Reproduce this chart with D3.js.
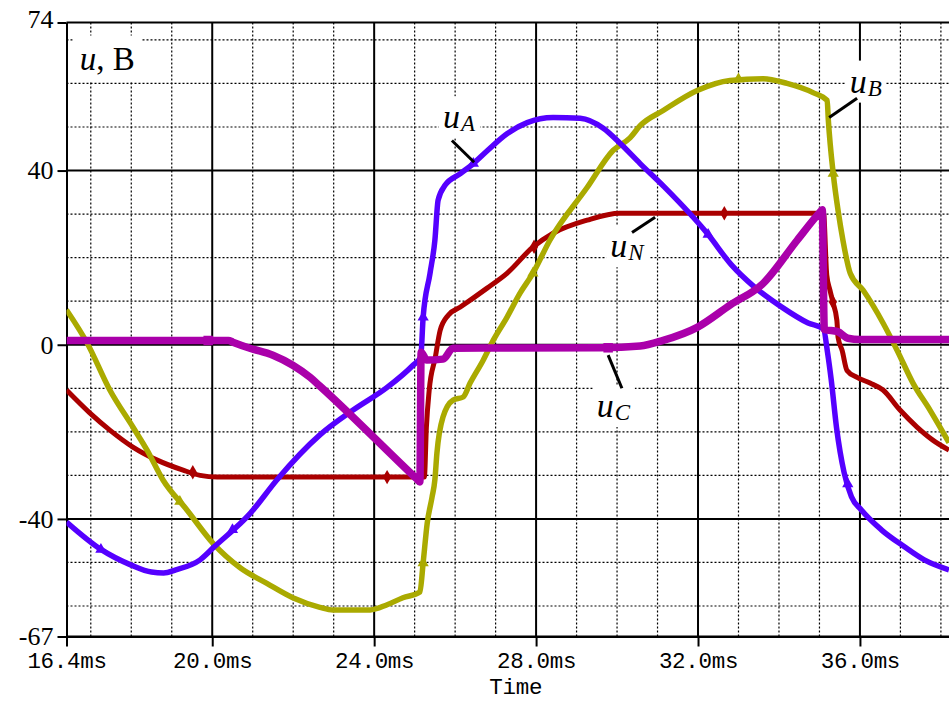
<!DOCTYPE html>
<html>
<head>
<meta charset="utf-8">
<script src="https://cdn.jsdelivr.net/npm/d3@7"></script>
<style>
  html, body { margin: 0; padding: 0; background: #fff; }
  svg { display: block; }
</style>
</head>
<body>
<svg id="chart" width="949" height="701"></svg>
<script>
// ---- axis ticks -----------------------------------------------------------
const timeTicks = [16.4, 20, 24, 28, 32, 36];
const timeTickLabels = ["16.4ms", "20.0ms", "24.0ms", "28.0ms", "32.0ms", "36.0ms"];
const voltTicks = [74, 40, 0, -40, -67];
const voltTickLabels = ["74", "40", "0", "-40", "-67"];
const minorTimes = [17, 18, 19, 21, 22, 23, 25, 26, 27, 29, 30, 31, 33, 34, 35, 37, 38];
const minorVolts = [70, 60, 50, 30, 20, 10, -10, -20, -30, -50, -60];

// ---- waveforms: [time in ms, voltage] ---------------------------------------
const uA = [
  [16.4, -40.7], [17.25, -47], [18.0, -50.6], [18.5, -52.2], [18.8, -52.4], [19.1, -51.7],
  [19.7, -49.4], [20.05, -46.4], [20.95, -38.6], [21.6, -31], [22.66, -20.7], [23.48, -15.0],
  [24.32, -9.8], [24.96, -4.7], [25.15, -2.8], [25.21, 6.3], [25.38, 16.4], [25.5, 24.0],
  [25.58, 33.2], [25.75, 36.6], [26.13, 39.3], [26.45, 41.6], [26.8, 44.6], [27.29, 48.5],
  [27.78, 51.0], [28.42, 52.2], [29.09, 52.0], [29.66, 49.7], [30.08, 46.2], [30.57, 41.6],
  [31.16, 36.3], [32.25, 25.3], [32.82, 18.4], [33.39, 13.3], [34.06, 8.7], [34.72, 5.0],
  [35.1, 3.6], [35.2, -1.8], [35.29, -8], [35.42, -18.9], [35.61, -29.4], [35.79, -34.9],
  [36.03, -37.9], [36.53, -42.5], [37.1, -46.4], [37.59, -49.4], [38.2, -51.7]
];
const uB = [
  [16.4, 8.0], [16.91, 0.4], [17.47, -10.4], [18.04, -18.9], [18.39, -24.2], [18.78, -31],
  [19.38, -38], [20.02, -45.6], [20.69, -51.2], [21.35, -54.8], [21.99, -58.1], [22.66, -60.3],
  [22.98, -60.9], [23.9, -60.9], [24.32, -59.7], [24.71, -58.1], [25.13, -56.8], [25.21, -50.1],
  [25.31, -41], [25.43, -35], [25.5, -31], [25.55, -24.9], [25.7, -16.6], [25.95, -12.7],
  [26.2, -12], [26.37, -8.8], [26.69, -3.6], [26.94, 1.0], [27.28, 6.3], [27.6, 11.8],
  [27.92, 16.4], [28.34, 24], [29.26, 36.1], [29.9, 44.6], [30.32, 47.5], [30.57, 50.3],
  [31.14, 53.8], [31.98, 58.4], [32.79, 60.7], [33.61, 61.1], [34.2, 60.0], [34.84, 57.9],
  [35.19, 56.1], [35.22, 51.5], [35.34, 39.3], [35.47, 30.2], [35.58, 24.0], [35.76, 16.4],
  [36.08, 12.5], [36.57, 5.0], [36.92, -1.3], [37.31, -8.8], [37.73, -15.0], [38.2, -22.5]
];
const uN = [
  [16.4, -10.4], [16.98, -15.7], [17.47, -19.6], [18.04, -23.5], [18.64, -26.5], [19.28, -28.8],
  [19.7, -30], [20.12, -30.4], [25.24, -30.4], [25.29, -19], [25.36, -10.4], [25.51, -2.9],
  [25.63, 3.3], [25.83, 6.8], [26.12, 8.6], [26.79, 13.0], [27.28, 16.4], [27.92, 22.4],
  [28.42, 25.6], [29.26, 28.6], [30.07, 30.2], [35.1, 30.2], [35.18, 16], [35.26, 12.5],
  [35.33, 9.8], [35.43, 5.6], [35.46, 1.7], [35.56, -1.3], [35.68, -5.9], [35.93, -7.5],
  [36.25, -8.8], [36.57, -10.4], [36.99, -15], [37.41, -18.9], [37.8, -21.9], [38.2, -24.2]
];
const uC = [
  [16.4, 1.0], [20.4, 1.0], [20.51, 0.6], [20.93, -0.8], [21.5, -2.4], [21.99, -4.7],
  [22.42, -7.5], [22.66, -9.5], [25.05, -30.8], [25.13, -31.5], [25.16, -1.7], [25.3, -3.5],
  [25.7, -3.3], [25.95, -0.8], [29.6, -0.7], [30.57, -0.3], [31.14, 1.0], [31.98, 4.0],
  [32.79, 9.1], [33.61, 14.1], [34.45, 24.0], [35.0, 30.3], [35.07, 31.0], [35.12, 3.5],
  [35.45, 3.0], [35.7, 1.5], [36.0, 1.2], [38.2, 1.2]
];

// trace markers
const markA = [[17.25, -47], [20.5, -42.5], [25.21, 6.3], [26.45, 41.6], [32.25, 25.3], [35.7, -32]];
const markB = [[19.2, -36], [25.21, -50.1], [27.92, 16.4], [33.0, 61], [35.34, 39.3]];
const markN = [[19.52, -29.3], [24.32, -30.4], [27.95, 22.5], [32.65, 30.2], [35.33, 9.8]];
const markC = [[19.9, 1.0], [29.78, -0.7]];

// ---- layout ---------------------------------------------------------------
const svg = d3.select("#chart");
const x = d3.scaleLinear().domain([16.4, 38.2]).range([66.5, 949]);
const y = d3.scaleLinear().domain([-67, 74]).range([636.5, 22.5]);
const [x0, x1] = x.range();
const [yb, yt] = y.range();
const mono = "'Liberation Mono', 'Courier New', monospace";
const serif = "'Liberation Serif', 'Times New Roman', serif";

// minor dotted grid
const grid = svg.append("g");
grid.selectAll("line.mv").data(minorTimes).join("line")
  .attr("x1", d => x(d)).attr("x2", d => x(d)).attr("y1", yt).attr("y2", yb)
  .attr("stroke", "#000").attr("stroke-width", 1.2).attr("stroke-dasharray", "2,2");
grid.selectAll("line.mh").data(minorVolts).join("line")
  .attr("x1", x0).attr("x2", x1).attr("y1", d => y(d)).attr("y2", d => y(d))
  .attr("stroke", "#000").attr("stroke-width", 1.2).attr("stroke-dasharray", "2,2");

// major solid grid
grid.selectAll("line.Mv").data(timeTicks.slice(1)).join("line")
  .attr("x1", d => x(d)).attr("x2", d => x(d)).attr("y1", yt).attr("y2", yb)
  .attr("stroke", "#000").attr("stroke-width", 2);
grid.selectAll("line.Mh").data(voltTicks).join("line")
  .attr("x1", x0).attr("x2", x1).attr("y1", d => y(d)).attr("y2", d => y(d))
  .attr("stroke", "#000").attr("stroke-width", 2);

// axes
const yAxis = d3.axisLeft(y).tickValues(voltTicks).tickSize(9).tickSizeOuter(0)
  .tickFormat((d, i) => voltTickLabels[i]);
const gy = svg.append("g").attr("transform", `translate(${x0},0)`).call(yAxis);
gy.select(".domain").attr("stroke-width", 2);
gy.selectAll(".tick line").attr("stroke-width", 2);
gy.selectAll(".tick text")
  .attr("font-family", serif)
  .attr("font-size", 26).attr("fill", "#000").attr("x", -13)
  .attr("y", d => d === d3.max(voltTicks) ? -3 : 0);

const xAxis = d3.axisBottom(x).tickValues(timeTicks).tickSize(10).tickSizeOuter(0)
  .tickFormat((d, i) => timeTickLabels[i]);
const gx = svg.append("g").attr("transform", `translate(0,${yb})`).call(xAxis);
gx.select(".domain").attr("stroke-width", 2);
gx.selectAll(".tick line").attr("stroke-width", 2);
gx.selectAll(".tick text")
  .attr("font-family", mono)
  .attr("font-size", 22.5).attr("letter-spacing", -0.3).attr("fill", "#000")
  .attr("y", 31.5).attr("dy", null);

svg.append("text")
  .attr("x", (x0 + x1) / 2 + 8).attr("y", 694)
  .attr("text-anchor", "middle")
  .attr("font-family", mono)
  .attr("font-size", 22.5).attr("letter-spacing", -0.3)
  .text("Time");

// ---- traces ---------------------------------------------------------------
svg.append("defs").append("clipPath").attr("id", "plotClip")
  .append("rect").attr("x", x0).attr("y", yt).attr("width", x1 - x0).attr("height", yb - yt);

const line = d3.line().curve(d3.curveMonotoneX).x(d => x(d[0])).y(d => y(d[1]));
const traces = [
  { data: uN, marks: markN, color: "#aa0000", width: 5, symbol: d3.symbolDiamond, size: 60 },
  { data: uB, marks: markB, color: "#aaaa00", width: 5.5, symbol: d3.symbolTriangle, size: 55 },
  { data: uA, marks: markA, color: "#5500ff", width: 5.5, symbol: d3.symbolTriangle, size: 55 },
  { data: uC, marks: markC, color: "#aa00aa", width: 7.5, symbol: d3.symbolSquare, size: 90 }
];
const plot = svg.append("g").attr("clip-path", "url(#plotClip)");
traces.forEach(tr => {
  plot.append("path").datum(tr.data)
    .attr("d", line).attr("fill", "none")
    .attr("stroke", tr.color).attr("stroke-width", tr.width)
    .attr("stroke-linejoin", "round").attr("stroke-linecap", "butt");
  plot.selectAll(null).data(tr.marks).join("path")
    .attr("transform", d => `translate(${x(d[0])},${y(d[1])})`)
    .attr("d", d3.symbol(tr.symbol, tr.size))
    .attr("fill", tr.color);
});

// ---- annotations ------------------------------------------------------------
const notes = [
  { sub: "A", text: [25.70, 49.7], from: [25.92, 46.9], to: [26.47, 41.9] },
  { sub: "B", text: [35.75, 57.9], from: [35.93, 56.6], to: [35.24, 52.2] },
  { sub: "N", text: [29.83, 20.1], from: [30.37, 25.8], to: [30.94, 29.3] },
  { sub: "C", text: [29.50, -16.6], from: [30.12, -10.0], to: [29.78, -2.4] }
];

function boxBehind(g, t, pad) {
  const bb = t.node().getBBox();
  g.insert("rect", "text")
    .attr("x", bb.x - pad).attr("y", bb.y - pad + 2)
    .attr("width", bb.width + 2 * pad).attr("height", bb.height + 2 * pad - 4)
    .attr("fill", "#fff");
}

notes.forEach(n => {
  const g = svg.append("g");
  const t = g.append("text")
    .attr("x", x(n.text[0])).attr("y", y(n.text[1]))
    .attr("font-family", serif).attr("font-style", "italic").attr("fill", "#000");
  t.append("tspan").attr("font-size", 34).text("u");
  t.append("tspan").attr("font-size", 23).attr("dy", 3).attr("dx", 1).text(n.sub);
  boxBehind(g, t, 4);
  g.append("line")
    .attr("x1", x(n.from[0])).attr("y1", y(n.from[1]))
    .attr("x2", x(n.to[0])).attr("y2", y(n.to[1]))
    .attr("stroke", "#000").attr("stroke-width", 3);
});

// quantity label
const qg = svg.append("g");
const qt = qg.append("text")
  .attr("x", x(16.73)).attr("y", y(63.2))
  .attr("font-family", serif).attr("font-size", 33).attr("fill", "#000");
qt.append("tspan").attr("font-style", "italic").text("u");
qt.append("tspan").text(", B");
boxBehind(qg, qt, 7);
</script>
</body>
</html>
